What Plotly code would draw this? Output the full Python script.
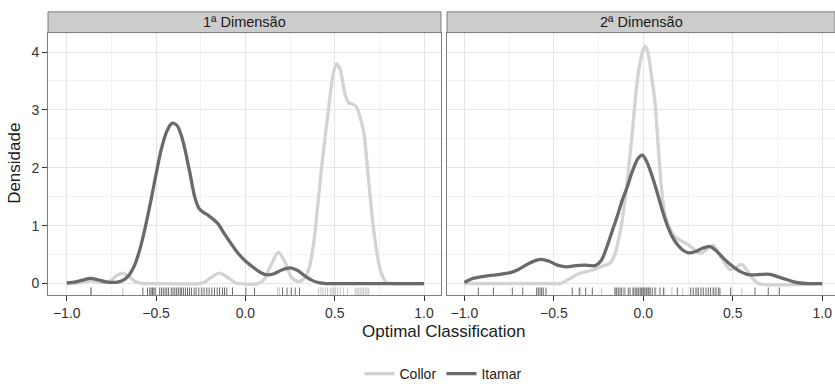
import plotly.graph_objects as go

# ---------------- data ----------------
GROUPS = ["Collor", "Itamar"]
PANELS = ["1ª Dimensão", "2ª Dimensão"]
X_TICKS = [-1.0, -0.5, 0.0, 0.5, 1.0]
Y_TICKS = [0, 1, 2, 3, 4]

# Panel 1 (1ª Dimensão) density curves
D1_COLLOR_X = [-1.0, -0.95, -0.9, -0.865, -0.83, -0.79, -0.75, -0.72, -0.69, -0.66, -0.62, -0.58, -0.5,
               -0.26, -0.23, -0.19, -0.145, -0.10, -0.06, -0.03, 0.07, 0.10, 0.14, 0.185, 0.22, 0.255,
               0.29, 0.32, 0.354, 0.38, 0.40, 0.43, 0.466, 0.49, 0.51, 0.53, 0.56, 0.58, 0.60, 0.62,
               0.64, 0.662, 0.69, 0.718, 0.755, 0.79, 0.82, 1.0]
D1_COLLOR_Y = [0.0, 0.005, 0.03, 0.05, 0.03, 0.02, 0.06, 0.14, 0.18, 0.14, 0.04, 0.005, 0.0,
               0.0, 0.02, 0.11, 0.18, 0.11, 0.02, 0.0, 0.0, 0.05, 0.30, 0.54, 0.38, 0.12,
               0.04, 0.06, 0.24, 0.65, 1.2, 2.1, 3.03, 3.6, 3.80, 3.70, 3.25, 3.12, 3.10, 3.06,
               2.9, 2.63, 1.78, 0.93, 0.24, 0.02, 0.0, 0.0]

D1_ITAMAR_X = [-1.0, -0.95, -0.9, -0.87, -0.83, -0.78, -0.74, -0.71, -0.69, -0.665, -0.64, -0.616,
               -0.59, -0.56, -0.53, -0.50, -0.47, -0.44, -0.415, -0.40, -0.38, -0.36, -0.34, -0.31,
               -0.283, -0.26, -0.235, -0.208, -0.18, -0.152, -0.12, -0.078, -0.04, 0.0, 0.04, 0.08,
               0.12, 0.16, 0.2, 0.25, 0.29, 0.33, 0.37, 0.41, 0.45, 0.5, 1.0]
D1_ITAMAR_Y = [0.01, 0.03, 0.07, 0.09, 0.07, 0.03, 0.02, 0.03, 0.05, 0.10, 0.2, 0.35,
               0.6, 0.98, 1.42, 1.89, 2.33, 2.63, 2.76, 2.77, 2.72, 2.57, 2.34, 1.9,
               1.49, 1.30, 1.23, 1.18, 1.11, 1.03, 0.87, 0.68, 0.52, 0.39, 0.29, 0.20,
               0.15, 0.17, 0.23, 0.27, 0.23, 0.14, 0.06, 0.015, 0.0, 0.0, 0.0]

# Panel 2 (2ª Dimensão) density curves
D2_COLLOR_X = [-1.0, -0.5, -0.464, -0.42, -0.38, -0.352, -0.31, -0.277, -0.23, -0.2, -0.184, -0.16,
               -0.128, -0.10, -0.082, -0.06, -0.046, -0.025, 0.0, 0.01, 0.025, 0.045, 0.065, 0.084,
               0.10, 0.12, 0.145, 0.168, 0.2, 0.242, 0.28, 0.317, 0.35, 0.391, 0.42, 0.456, 0.484,
               0.51, 0.55, 0.575, 0.596, 0.62, 0.643, 1.0]
D2_COLLOR_Y = [0.0, 0.0, 0.0, 0.07, 0.14, 0.18, 0.21, 0.24, 0.30, 0.33, 0.36, 0.50,
               0.92, 1.5, 2.0, 2.65, 3.14, 3.7, 4.05, 4.10, 4.0, 3.6, 3.14, 2.34,
               1.7, 1.2, 0.98, 0.84, 0.76, 0.69, 0.60, 0.52, 0.58, 0.66, 0.52, 0.35, 0.24,
               0.27, 0.33, 0.25, 0.15, 0.06, 0.0, 0.0]

D2_ITAMAR_X = [-1.0, -0.96, -0.9, -0.855, -0.80, -0.743, -0.70, -0.65, -0.60, -0.57, -0.53, -0.48,
               -0.426, -0.38, -0.33, -0.27, -0.235, -0.203, -0.175, -0.147, -0.12, -0.091, -0.06,
               -0.03, -0.005, 0.02, 0.05, 0.075, 0.10, 0.131, 0.16, 0.187, 0.22, 0.251, 0.29, 0.33,
               0.373, 0.41, 0.447, 0.49, 0.54, 0.58, 0.615, 0.66, 0.708, 0.75, 0.80, 0.84, 0.875,
               0.92, 1.0]
D2_ITAMAR_Y = [0.02, 0.08, 0.12, 0.14, 0.16, 0.19, 0.24, 0.33, 0.40, 0.42, 0.39, 0.32,
               0.29, 0.31, 0.32, 0.31, 0.40, 0.64, 0.90, 1.15, 1.42, 1.66, 1.95,
               2.16, 2.22, 2.10, 1.85, 1.60, 1.33, 1.03, 0.82, 0.69, 0.58, 0.53, 0.55, 0.61,
               0.64, 0.56, 0.44, 0.32, 0.21, 0.16, 0.15, 0.16, 0.16, 0.12, 0.07, 0.03, 0.01,
               0.0, 0.0]

# Rug (observations)
RUG1_COLLOR = [-0.866, -0.686, -0.143, 0.18, 0.19, 0.41, 0.423, 0.434, 0.447, 0.46, 0.475, 0.485,
               0.494, 0.503, 0.516, 0.531, 0.55, 0.572, 0.615, 0.625, 0.634, 0.643, 0.653, 0.662,
               0.671, 0.681, 0.69]
RUG1_ITAMAR = [-0.864, -0.574, -0.548, -0.535, -0.528, -0.52, -0.512, -0.505, -0.48, -0.47, -0.46,
               -0.45, -0.44, -0.43, -0.415, -0.405, -0.395, -0.385, -0.375, -0.365, -0.357, -0.347,
               -0.336, -0.324, -0.313, -0.302, -0.287, -0.276, -0.261, -0.244, -0.231, -0.216,
               -0.203, -0.188, -0.173, -0.158, -0.145, -0.128, -0.117, -0.104, -0.072, 0.003,
               0.051, 0.208, 0.233, 0.257, 0.279, 0.303]
RUG2_COLLOR = [-0.35, -0.233, -0.16, -0.10, -0.06, -0.03, -0.015, -0.005, 0.005, 0.015, 0.025,
               0.04, 0.07, 0.12, 0.16, 0.22, 0.30, 0.39, 0.40, 0.55]
RUG2_ITAMAR = [-0.922, -0.838, -0.732, -0.674, -0.596, -0.587, -0.577, -0.568, -0.559, -0.544,
               -0.397, -0.358, -0.322, -0.285, -0.158, -0.149, -0.140, -0.130, -0.121, -0.108,
               -0.084, -0.074, -0.056, -0.046, -0.037, -0.028, -0.018, -0.009, 0.0, 0.009, 0.019,
               0.028, 0.037, 0.050, 0.065, 0.093, 0.112, 0.19, 0.265, 0.279, 0.294, 0.307, 0.322,
               0.335, 0.35, 0.363, 0.376, 0.391, 0.406, 0.419, 0.428, 0.488, 0.624, 0.698, 0.76]

# ---------------- style ----------------
W, H = 835, 390
FONT = "Liberation Sans, Arial, sans-serif"
LINE_COL = {"Collor": "#d3d3d3", "Itamar": "#6a6a6a"}
RUG_COL = {"Collor": "#c4c4c4", "Itamar": "#6a6a6a"}
TXT = "#333333"
BORDER = "#7f7f7f"

PANEL_TOP, PANEL_BOT = 33, 299
STRIP_TOP = 12
X_DOM = [(48 / W, 441 / W), (447 / W, 1.0)]
X_RNG = [(-1.105, 1.095), (-1.097, 1.071)]
Y_RNG = (-0.2, 4.336)
Y_DOM = (1 - PANEL_BOT / H, 1 - PANEL_TOP / H)
RUG_Y = -0.14

curves = {
    0: {"Collor": (D1_COLLOR_X, D1_COLLOR_Y), "Itamar": (D1_ITAMAR_X, D1_ITAMAR_Y)},
    1: {"Collor": (D2_COLLOR_X, D2_COLLOR_Y), "Itamar": (D2_ITAMAR_X, D2_ITAMAR_Y)},
}
rugs = {
    0: {"Collor": RUG1_COLLOR, "Itamar": RUG1_ITAMAR},
    1: {"Collor": RUG2_COLLOR, "Itamar": RUG2_ITAMAR},
}

fig = go.Figure()
for p in range(2):
    xa = "x" if p == 0 else "x2"
    ya = "y" if p == 0 else "y2"
    for g in GROUPS:
        rx = rugs[p][g]
        fig.add_trace(go.Scatter(
            x=rx, y=[RUG_Y] * len(rx), xaxis=xa, yaxis=ya, mode="markers",
            marker=dict(symbol="line-ns-open", size=6, color=RUG_COL[g],
                        line=dict(color=RUG_COL[g], width=1)),
            showlegend=False, hoverinfo="x"))
    for g in GROUPS:
        cx, cy = curves[p][g]
        fig.add_trace(go.Scatter(
            x=cx, y=cy, xaxis=xa, yaxis=ya, mode="lines", name=g,
            line=dict(color=LINE_COL[g], width=3.3, shape="spline", smoothing=0.8),
            showlegend=(p == 0), legendgroup=g))

axis_common = dict(
    showline=True, mirror=True, linecolor=BORDER, linewidth=1,
    showgrid=True, gridcolor="#e6e6e6", gridwidth=1, zeroline=False,
    ticks="outside", ticklen=5, tickcolor="#333333", tickwidth=1,
    tickfont=dict(family=FONT, size=14, color=TXT),
)

layout = dict(
    width=W, height=H, margin=dict(l=0, r=0, t=0, b=0),
    paper_bgcolor="white", plot_bgcolor="white",
    font=dict(family=FONT, color=TXT),
    showlegend=True,
    legend=dict(orientation="h", x=443 / W, xanchor="center", y=1 - 379 / H, yanchor="middle",
                font=dict(family=FONT, size=14, color="#222222"), itemwidth=30,
                bgcolor="rgba(0,0,0,0)", tracegroupgap=0),
)
for p in range(2):
    sx = "" if p == 0 else "2"
    layout["xaxis" + sx] = dict(
        axis_common, domain=list(X_DOM[p]), range=list(X_RNG[p]), anchor="y" + sx,
        tickvals=X_TICKS, tickformat=".1f",
        minor=dict(dtick=0.25, tick0=0, showgrid=True, gridcolor="#f2f2f2", ticks=""))
    ydict = dict(
        axis_common, domain=list(Y_DOM), range=list(Y_RNG), anchor="x" + sx,
        tickvals=Y_TICKS,
        minor=dict(dtick=0.5, tick0=0, showgrid=True, gridcolor="#f2f2f2", ticks=""))
    if p == 1:
        ydict.update(showticklabels=False, ticks="")
    layout["yaxis" + sx] = ydict

fig.update_layout(**layout)

# facet strips
for p in range(2):
    xr = "x domain" if p == 0 else "x2 domain"
    fig.add_shape(type="rect", xref=xr, yref="paper", x0=0, x1=1,
                  y0=1 - PANEL_TOP / H, y1=1 - STRIP_TOP / H,
                  fillcolor="#cccccc", line=dict(color=BORDER, width=1), layer="above")
    fig.add_annotation(xref=xr, yref="paper", x=0.5, y=1 - (PANEL_TOP + STRIP_TOP) / 2 / H,
                       text=PANELS[p], showarrow=False, xanchor="center", yanchor="middle",
                       font=dict(family=FONT, size=14.5, color="#1a1a1a"))

# axis titles
fig.add_annotation(xref="paper", yref="paper", x=443 / W, y=1 - 336 / H,
                   text="Optimal Classification", showarrow=False,
                   xanchor="center", yanchor="middle",
                   font=dict(family=FONT, size=17, color="#1a1a1a"))
fig.add_annotation(xref="paper", yref="paper", x=15 / W, y=1 - 166 / H,
                   text="Densidade", showarrow=False, textangle=-90,
                   xanchor="center", yanchor="middle",
                   font=dict(family=FONT, size=17, color="#1a1a1a"))

fig.write_html("out.html")
